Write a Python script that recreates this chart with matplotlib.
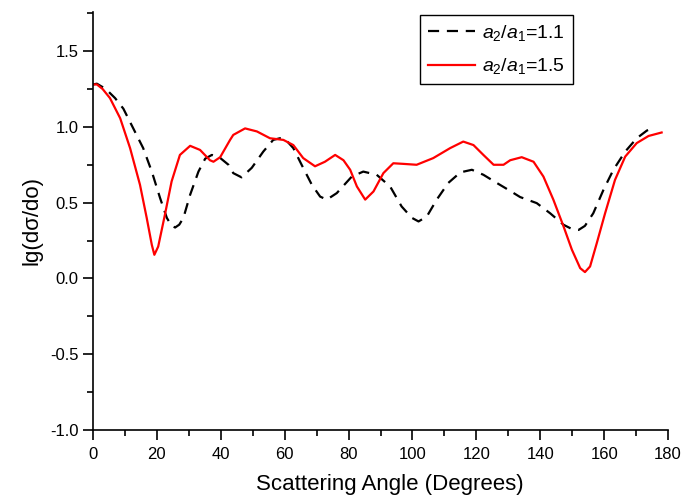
import numpy as np
import matplotlib.pyplot as plt
from matplotlib.ticker import MultipleLocator

# values
angle_11 = [0, 1.2, 4, 6.9, 9.5, 12.6, 15.7, 18.4, 21.0, 23.1, 24.5, 25.7, 27.0, 28.3,
            30.4, 33.0, 35.1, 37.2, 39.8, 42.4, 43.9, 46.5, 49.7, 53.3, 56.4, 58.5,
            60.1, 62.7, 65.3, 68.5, 71.1, 73.2, 76.3, 81.0, 84.6, 88.8, 93.0, 96.6,
            99.8, 101.9, 104.5, 107.6, 111.2, 115.0, 118.6, 122.2, 126.4, 130.0,
            133.7, 138.9, 143.1, 147.3, 150.0, 152.0, 154.0, 156.6, 159.8, 162.9,
            166.6, 170.2, 173.4, 176.0]
lg_11 = [1.28, 1.285, 1.25, 1.19, 1.12, 0.99, 0.86, 0.705, 0.53, 0.40, 0.35, 0.336, 0.355,
         0.40, 0.552, 0.705, 0.79, 0.815, 0.795, 0.75, 0.695, 0.667, 0.73, 0.837, 0.914,
         0.925, 0.92, 0.86, 0.75, 0.618, 0.54, 0.52, 0.563, 0.672, 0.705, 0.684, 0.607,
         0.475, 0.40, 0.376, 0.409, 0.52, 0.63, 0.70, 0.717, 0.684, 0.63, 0.585,
         0.537, 0.497, 0.43, 0.354, 0.325, 0.32, 0.347, 0.43, 0.585, 0.717,
         0.837, 0.925, 0.976, 0.998]

angle_15 = [0, 1.2, 3.0, 5.3, 8.5, 11.6, 14.7, 16.8, 18.4, 19.2, 20.4, 22.5, 24.6, 27.2,
            30.4, 33.5, 36.6, 37.7, 39.8, 42.9, 43.9, 47.6, 51.3, 55.4, 59.6, 62.7,
            65.8, 69.5, 72.6, 75.8, 78.4, 80.5, 82.6, 85.2, 87.8, 90.9, 94.0, 97.1,
            101.3, 106.5, 111.8, 115.9, 119.1, 122.2, 125.4, 128.5, 130.6, 134.2,
            137.9, 141.0, 144.1, 147.3, 149.9, 152.5, 154.0, 155.6, 157.7, 160.3,
            163.4, 166.6, 170.2, 173.9, 178.0]
lg_15 = [1.28, 1.28, 1.25, 1.19, 1.057, 0.86, 0.618, 0.40, 0.222, 0.156, 0.21, 0.42, 0.64,
         0.815, 0.875, 0.848, 0.78, 0.77, 0.80, 0.914, 0.947, 0.99, 0.97, 0.925, 0.914,
         0.88, 0.794, 0.74, 0.77, 0.815, 0.78, 0.717, 0.607, 0.52, 0.574, 0.695, 0.76,
         0.756, 0.75, 0.794, 0.86, 0.903, 0.88, 0.815, 0.75, 0.75, 0.78, 0.80,
         0.77, 0.672, 0.52, 0.343, 0.19, 0.068, 0.042, 0.079, 0.233, 0.43,
         0.65, 0.804, 0.893, 0.94, 0.963]

plt.rcParams['font.family'] = ['Liberation Sans', 'DejaVu Sans']
plt.rcParams['mathtext.fontset'] = 'custom'
plt.rcParams['mathtext.it'] = 'Liberation Sans:italic'
plt.rcParams['mathtext.rm'] = 'Liberation Sans'

fig = plt.figure(figsize=(6.82, 5.0), dpi=100)
ax = fig.add_axes([0.1364, 0.14, 0.8431, 0.8366])

ax.plot(angle_11, lg_11, color='black', linestyle=(0, (5, 3.5)), linewidth=1.6,
        label=r'$a_2/a_1$=1.1')
ax.plot(angle_15, lg_15, color='#ff0000', linewidth=1.6, label=r'$a_2/a_1$=1.5')

ax.set_xlim(0, 180)
ax.set_ylim(-1.0, 1.76)
ax.xaxis.set_major_locator(MultipleLocator(20))
ax.xaxis.set_minor_locator(MultipleLocator(10))
ax.yaxis.set_major_locator(MultipleLocator(0.5))
ax.yaxis.set_minor_locator(MultipleLocator(0.25))
ax.yaxis.set_major_formatter(plt.FuncFormatter(lambda v, p: '%.1f' % v))

ax.spines['top'].set_visible(False)
ax.spines['right'].set_visible(False)
for s in ['left', 'bottom']:
    ax.spines[s].set_linewidth(1.2)
ax.tick_params(which='major', direction='out', length=7, width=1.2, labelsize=12)
ax.tick_params(axis='x', which='major', pad=5)
ax.tick_params(which='minor', direction='out', length=4, width=1.2)

ax.set_xlabel('Scattering Angle (Degrees)', fontsize=16, labelpad=10)
ax.xaxis.set_label_coords(0.517, -0.105)
ax.set_ylabel('lg(dσ/do)', fontsize=16, labelpad=5)

leg = ax.legend(loc='upper right', bbox_to_anchor=(0.835, 0.992), borderaxespad=0,
                fontsize=14, fancybox=False, edgecolor='black', framealpha=1,
                handlelength=2.4, handletextpad=0.4, borderpad=0.4,
                labelspacing=0.7)
leg.get_frame().set_linewidth(1.0)

fig.savefig('out.png', dpi=100)
